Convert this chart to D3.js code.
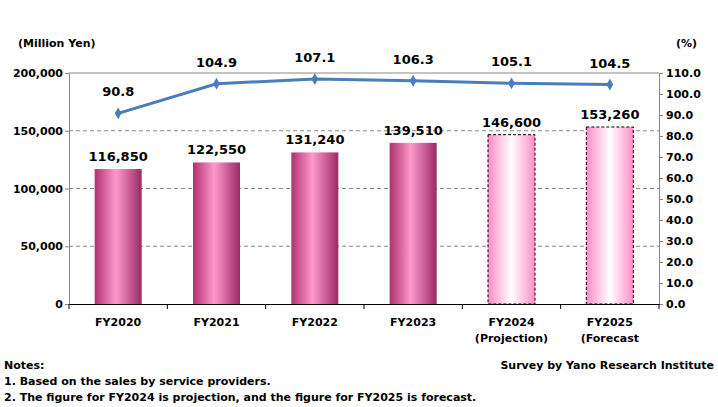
<!DOCTYPE html>
<html><head><meta charset="utf-8">
<script src="https://cdn.jsdelivr.net/npm/d3@7"></script>
<style>body{margin:0;background:#fff}text{font-family:"DejaVu Sans",sans-serif;font-weight:bold}</style>
</head><body><div id="chart"></div>
<script>
const categories = ["FY2020", "FY2021", "FY2022", "FY2023", "FY2024", "FY2025"];
const catLines = [["FY2020"], ["FY2021"], ["FY2022"], ["FY2023"], ["FY2024", "(Projection)"], ["FY2025", "(Forecast"]];
const sales = [116850, 122550, 131240, 139510, 146600, 153260];
const growth = [90.8, 104.9, 107.1, 106.3, 105.1, 104.5];
const estimated = [false, false, false, false, true, true];
const leftTicks = [0, 50000, 100000, 150000, 200000];
const rightTicks = d3.range(0, 111, 10);

const W = 718, H = 407;
const m = {l: 69, r: 659, t: 73, b: 304};
const svg = d3.select("#chart").append("svg").attr("width", W).attr("height", H);

const defs = svg.append("defs");
const g1 = defs.append("linearGradient").attr("id", "gA");
[["0%", "#b0326f"], ["45%", "#ff99cc"], ["100%", "#9a2a62"]].forEach(s => g1.append("stop").attr("offset", s[0]).attr("stop-color", s[1]));
const g2 = defs.append("linearGradient").attr("id", "gB");
[["0%", "#ff8cc6"], ["50%", "#ffffff"], ["100%", "#ff8cc6"]].forEach(s => g2.append("stop").attr("offset", s[0]).attr("stop-color", s[1]));

const x = d3.scaleBand().domain(categories).range([m.l, m.r]);
const y = d3.scaleLinear().domain([0, 200000]).range([m.b, m.t]);
const y2 = d3.scaleLinear().domain([0, 110]).range([m.b, m.t]);

// grid
svg.selectAll(".grid").data(leftTicks.slice(1, 4)).join("line")
  .attr("x1", m.l).attr("x2", m.r).attr("y1", d => y(d)).attr("y2", d => y(d))
  .attr("stroke", "#888").attr("stroke-dasharray", "4,3");
svg.append("line").attr("x1", m.l).attr("x2", m.r).attr("y1", m.t).attr("y2", m.t).attr("stroke", "#888");

// axes
const fmt = d3.format(",");
const la = svg.append("g").attr("transform", `translate(${m.l},0)`)
  .call(d3.axisLeft(y).tickValues(leftTicks).tickFormat(fmt).tickSize(4));
const ra = svg.append("g").attr("transform", `translate(${m.r},0)`)
  .call(d3.axisRight(y2).tickValues(rightTicks).tickFormat(d3.format(".1f")).tickSize(4));
const ba = svg.append("g").attr("transform", `translate(0,${m.b})`)
  .call(d3.axisBottom(x).tickSize(0).tickFormat(""));
svg.selectAll(".bt").data(categories.concat([""])).join("line")
  .attr("x1", (d, i) => m.l + i * x.step()).attr("x2", (d, i) => m.l + i * x.step())
  .attr("y1", m.b).attr("y2", m.b + 5).attr("stroke", "#000");
[la, ra, ba].forEach(a => { a.select(".domain").attr("stroke", "#888"); a.selectAll(".tick line").attr("stroke", "#888"); a.selectAll("text").attr("font-size", 11).attr("fill", "#000"); });
ba.select(".domain").attr("stroke", "#000");
la.selectAll("text").attr("x", -6);

svg.selectAll(".xl").data(catLines).join("text")
  .attr("x", (d, i) => x(categories[i]) + x.bandwidth() / 2).attr("y", 326)
  .attr("text-anchor", "middle").attr("font-size", 11)
  .selectAll("tspan").data(d => d).join("tspan")
  .attr("x", function() { return this.parentNode.getAttribute("x"); })
  .attr("dy", (d, i) => i ? 16 : 0).text(d => d);

// bars
const bw = 47;
svg.selectAll(".bar").data(sales).join("rect")
  .attr("x", (d, i) => x(categories[i]) + x.bandwidth() / 2 - bw / 2)
  .attr("width", bw).attr("y", d => y(d)).attr("height", d => m.b - y(d))
  .attr("fill", (d, i) => estimated[i] ? "url(#gB)" : "url(#gA)")
  .attr("stroke", (d, i) => estimated[i] ? "#000" : "none")
  .attr("stroke-dasharray", "3,2");
svg.selectAll(".bl").data(sales).join("text")
  .attr("x", (d, i) => x(categories[i]) + x.bandwidth() / 2).attr("y", d => y(d) - 8)
  .attr("text-anchor", "middle").attr("font-size", 13).text(fmt);

// line
const px = (d, i) => x(categories[i]) + x.bandwidth() / 2;
svg.append("path").datum(growth)
  .attr("d", d3.line().x(px).y(d => y2(d)))
  .attr("fill", "none").attr("stroke", "#4a7ebb").attr("stroke-width", 3);
svg.selectAll(".pt").data(growth).join("path")
  .attr("transform", (d, i) => `translate(${px(d, i)},${y2(d)})`)
  .attr("d", d3.symbol(d3.symbolDiamond, 40)).attr("fill", "#4a7ebb");
const gl = svg.selectAll(".gl").data(growth).join("g")
  .attr("transform", (d, i) => `translate(${px(d, i)},${y2(d) - 20})`);
gl.append("rect").attr("x", -22).attr("y", -11).attr("width", 44).attr("height", 18).attr("fill", "#fff");
gl.append("text").attr("text-anchor", "middle").attr("y", 3).attr("font-size", 13).text(d => d.toFixed(1));

// titles and notes
svg.append("text").attr("x", 18).attr("y", 47).attr("font-size", 11).text("(Million Yen)");
svg.append("text").attr("x", 676).attr("y", 47).attr("font-size", 11).text("(%)");
svg.append("text").attr("x", 4).attr("y", 369).attr("font-size", 11).text("Notes:");
svg.append("text").attr("x", 4).attr("y", 385).attr("font-size", 11).text("1. Based on the sales by service providers.");
svg.append("text").attr("x", 4).attr("y", 401).attr("font-size", 11).text("2. The figure for FY2024 is projection, and the figure for FY2025 is forecast.");
svg.append("text").attr("x", 714).attr("y", 369).attr("font-size", 11).attr("text-anchor", "end").text("Survey by Yano Research Institute");
</script></body></html>
